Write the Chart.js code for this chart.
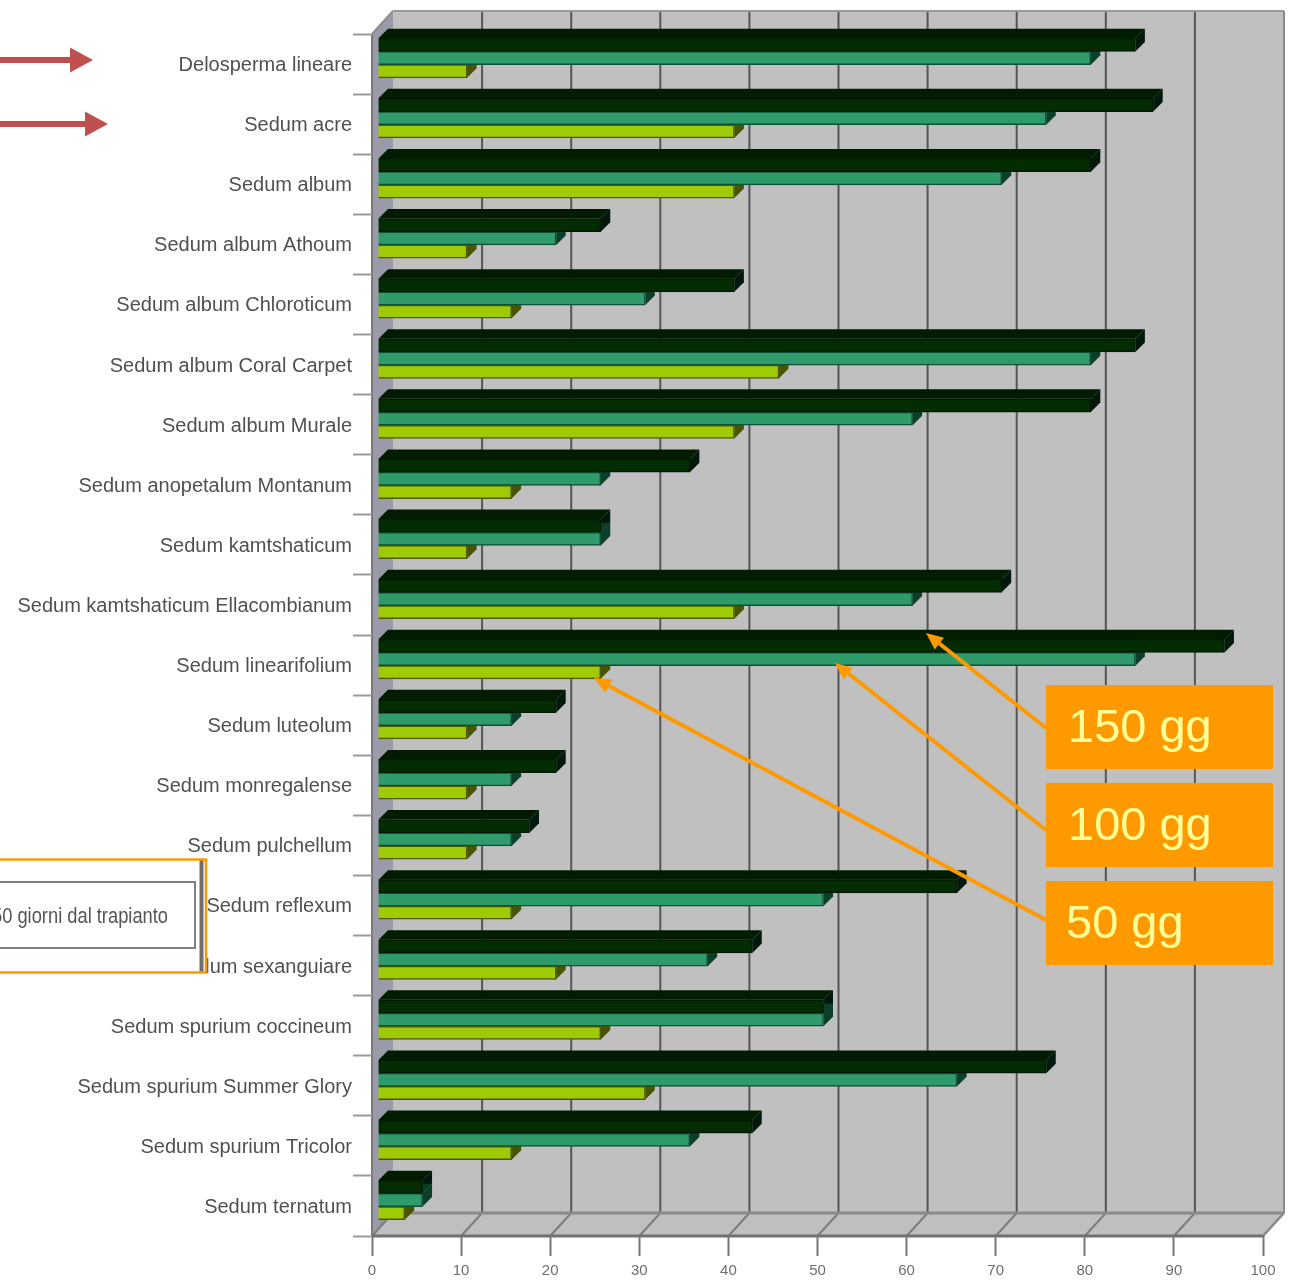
<!DOCTYPE html>
<html>
<head>
<meta charset="utf-8">
<title>Sedum</title>
<script src="https://cdn.jsdelivr.net/npm/chart.js@4/dist/chart.umd.min.js"></script>
<style>
  html, body { margin: 0; padding: 0; background: #fff; }
  canvas { display: block; }
</style>
</head>
<body>
<canvas id="sedum-chart" width="1293" height="1280"></canvas>
<script>
let species = [
  "Delosperma lineare", "Sedum acre", "Sedum album", "Sedum album Athoum",
  "Sedum album Chloroticum", "Sedum album Coral Carpet", "Sedum album Murale",
  "Sedum anopetalum Montanum", "Sedum kamtshaticum", "Sedum kamtshaticum Ellacombianum",
  "Sedum linearifolium", "Sedum luteolum", "Sedum monregalense", "Sedum pulchellum",
  "Sedum reflexum", "Sedum sexanguiare", "Sedum spurium coccineum",
  "Sedum spurium Summer Glory", "Sedum spurium Tricolor", "Sedum ternatum"
];
let days150 = [85, 87, 80, 25, 40, 85, 80, 35, 25, 70, 95, 20, 20, 17, 65, 42, 50, 75, 42, 5];
let days100 = [80, 75, 70, 20, 30, 80, 60, 25, 25, 60, 85, 15, 15, 15, 50, 37, 50, 65, 35, 5];
let days50 = [10, 40, 40, 10, 15, 45, 40, 15, 10, 40, 25, 10, 10, 10, 15, 20, 25, 30, 15, 3];
let xTicks = [0, 10, 20, 30, 40, 50, 60, 70, 80, 90, 100];

let sansFont = '"Liberation Sans", Arial, sans-serif';
let orange = "#ff9900";
let wallDepth = { x: 21, y: 23 };
let barShift = { x: 6, y: -6 };
let barDepth = 9.5;

// side colours for the fake 3D bars, same order as the datasets
let barSides = [
  { top: "#021c02", right: "#01180c" },
  { top: "#0a3d25", right: "#0a4029" },
  { top: "#4a5600", right: "#485400" }
];

function fillPoly(ctx, pts, color) {
  ctx.fillStyle = color;
  ctx.beginPath();
  ctx.moveTo(pts[0][0], pts[0][1]);
  for (let i = 1; i < pts.length; i++) ctx.lineTo(pts[i][0], pts[i][1]);
  ctx.closePath();
  ctx.fill();
}

function strokeLine(ctx, x1, y1, x2, y2, color, width) {
  ctx.strokeStyle = color;
  ctx.lineWidth = width;
  ctx.beginPath();
  ctx.moveTo(x1, y1);
  ctx.lineTo(x2, y2);
  ctx.stroke();
}

function drawArrow(ctx, x1, y1, x2, y2, color, width, headLen, headWidth) {
  let a = Math.atan2(y2 - y1, x2 - x1);
  let bx = x2 - Math.cos(a) * headLen;
  let by = y2 - Math.sin(a) * headLen;
  strokeLine(ctx, x1, y1, bx, by, color, width);
  let nx = -Math.sin(a) * headWidth / 2;
  let ny = Math.cos(a) * headWidth / 2;
  fillPoly(ctx, [[x2, y2], [bx + nx, by + ny], [bx - nx, by - ny]], color);
}

// back wall, left wall and floor behind the plot
let wallsPlugin = {
  id: "walls",
  beforeDraw(chart) {
    let ctx = chart.ctx;
    let area = chart.chartArea;
    let dx = wallDepth.x;
    let dy = wallDepth.y;
    let x = chart.scales.x;

    ctx.save();
    fillPoly(ctx, [[area.left + dx, area.top - dy], [area.right + dx, area.top - dy],
      [area.right + dx, area.bottom - dy], [area.left + dx, area.bottom - dy]], "#c0c0c0");
    fillPoly(ctx, [[area.left, area.top], [area.left + dx, area.top - dy],
      [area.left + dx, area.bottom - dy], [area.left, area.bottom]], "#9a9aa8");
    fillPoly(ctx, [[area.left, area.bottom], [area.left + dx, area.bottom - dy],
      [area.right + dx, area.bottom - dy], [area.right, area.bottom]], "#bfbfbf");

    xTicks.forEach(function(v) {
      let px = x.getPixelForValue(v);
      if (v > 0 && v < 100) {
        strokeLine(ctx, px + dx, area.top - dy, px + dx, area.bottom - dy, "#555555", 2);
      }
      strokeLine(ctx, px, area.bottom, px + dx, area.bottom - dy, "#7c7c7c", 2);
    });

    strokeLine(ctx, area.left + dx, area.top - dy, area.right + dx, area.top - dy, "#9a9a9a", 2);
    strokeLine(ctx, area.right + dx, area.top - dy, area.right + dx, area.bottom - dy, "#8c8c8c", 2);
    strokeLine(ctx, area.left, area.top, area.left + dx, area.top - dy, "#8c8c8c", 2);
    strokeLine(ctx, area.left + dx, area.bottom - dy, area.right + dx, area.bottom - dy, "#8a8a8a", 3);
    strokeLine(ctx, area.right, area.bottom, area.right + dx, area.bottom - dy, "#8c8c8c", 2);
    strokeLine(ctx, area.left, area.top, area.left, area.bottom, "#7a7a7a", 2);
    strokeLine(ctx, area.left, area.bottom, area.right, area.bottom, "#707070", 3);
    ctx.restore();
  }
};

// pushes the bars into the middle of the depth and adds their top and right faces
let barDepthPlugin = {
  id: "barDepth",
  beforeDatasetsDraw(chart) {
    let ctx = chart.ctx;
    ctx.save();
    ctx.translate(barShift.x, barShift.y);
    chart.data.datasets.forEach(function(ds, i) {
      chart.getDatasetMeta(i).data.forEach(function(bar) {
        let top = bar.y - bar.height / 2;
        let bottom = bar.y + bar.height / 2;
        let d = barDepth;
        fillPoly(ctx, [[bar.base, top], [bar.base + d, top - d], [bar.x + d, top - d], [bar.x, top]], barSides[i].top);
        fillPoly(ctx, [[bar.x, top], [bar.x + d, top - d], [bar.x + d, bottom - d], [bar.x, bottom]], barSides[i].right);
      });
    });
  },
  afterDatasetsDraw(chart) {
    chart.ctx.restore();
  }
};

// callouts laid over the finished chart
let calloutPlugin = {
  id: "callouts",
  afterDraw(chart) {
    let ctx = chart.ctx;
    ctx.save();

    // legend box running off the left edge
    ctx.fillStyle = "#ffffff";
    ctx.fillRect(0, 859, 206, 114);
    strokeLine(ctx, 201.5, 860, 201.5, 972, "#6e6e6e", 4);
    ctx.strokeStyle = "#808080";
    ctx.lineWidth = 2;
    ctx.strokeRect(-10, 882, 205, 66);
    ctx.strokeStyle = orange;
    ctx.lineWidth = 2.5;
    ctx.strokeRect(-10, 859.5, 216, 113);
    ctx.fillStyle = "#555555";
    ctx.font = "22px " + sansFont;
    ctx.textAlign = "right";
    ctx.textBaseline = "alphabetic";
    ctx.fillText("50 giorni dal trapianto", 168, 923, 176);

    // red pointers next to the first two species
    drawArrow(ctx, 0, 60, 93, 60, "#c0504d", 6, 23, 25);
    drawArrow(ctx, 0, 124, 108, 124, "#c0504d", 6, 23, 25);

    // orange pointers and their boxes
    drawArrow(ctx, 1046, 728, 926, 633, orange, 4, 17, 15);
    drawArrow(ctx, 1046, 830, 835, 663, orange, 4, 17, 15);
    drawArrow(ctx, 1046, 920, 594, 678, orange, 4, 17, 15);

    let boxes = [
      { y: 685, text: "150 gg", textX: 1068, base: 742 },
      { y: 783, text: "100 gg", textX: 1068, base: 840 },
      { y: 881, text: "50 gg", textX: 1066, base: 938 }
    ];
    ctx.textAlign = "left";
    ctx.font = "47px " + sansFont;
    boxes.forEach(function(b) {
      ctx.fillStyle = orange;
      ctx.fillRect(1046, b.y, 227, 84);
      ctx.fillStyle = "#ffff99";
      ctx.fillText(b.text, b.textX, b.base);
    });
    ctx.restore();
  }
};

let chartData = {
  labels: species,
  datasets: [
    { label: "150 gg", data: days150, backgroundColor: "#032c03", borderColor: "#021a02" },
    { label: "100 gg", data: days100, backgroundColor: "#2f9a6a", borderColor: "#0f5236" },
    { label: "50 gg", data: days50, backgroundColor: "#9ecb06", borderColor: "#4f5a00" }
  ]
};

chartData.datasets.forEach(function(ds) {
  ds.barThickness = 13.2;
  ds.borderWidth = 1.5;
  ds.clip = false;
});

let ctx = document.getElementById("sedum-chart");
let sedumChart = new Chart(ctx, {
  type: "bar",
  data: chartData,
  plugins: [wallsPlugin, barDepthPlugin, calloutPlugin],
  options: {
    indexAxis: "y",
    responsive: false,
    animation: false,
    events: [],
    layout: { padding: { left: 0, top: 34, right: 30, bottom: 0 } },
    plugins: { legend: { display: false }, tooltip: { enabled: false } },
    scales: {
      x: {
        type: "linear",
        min: 0,
        max: 100,
        afterFit(scale) { scale.height = 44; },
        afterBuildTicks(scale) { scale.ticks = xTicks.map(function(v) { return { value: v }; }); },
        grid: { drawOnChartArea: false, tickLength: 20, tickColor: "#777777", tickWidth: 2 },
        border: { display: false },
        ticks: { maxRotation: 0, padding: 6, color: "#6e6e6e", font: { family: sansFont, size: 15 } }
      },
      y: {
        afterFit(scale) { scale.width = 372; },
        grid: { offset: true, drawOnChartArea: false, tickLength: 19, tickColor: "#9a9a9a", tickWidth: 2 },
        border: { display: false },
        ticks: { autoSkip: false, padding: 1, labelOffset: 1.5, color: "#505050", font: { family: sansFont, size: 20 } }
      }
    }
  }
});
</script>
</body>
</html>
